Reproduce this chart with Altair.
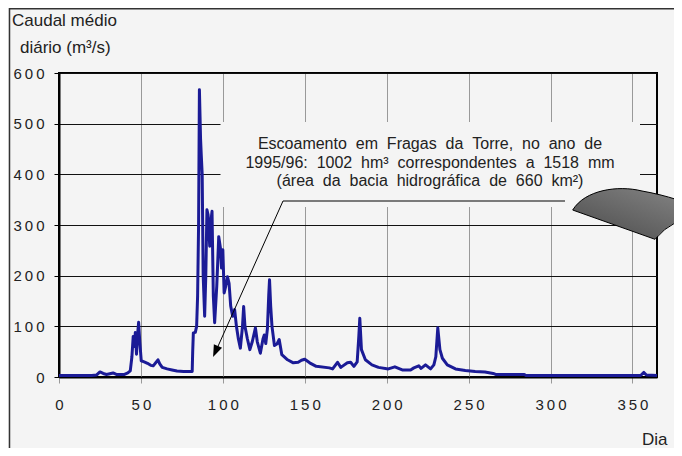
import altair as alt
import pandas as pd

# ---- data ----
days = [0, 10, 20, 23, 25, 27, 29, 33, 35, 40, 42, 43.5, 44.5, 45.3, 46, 46.6, 47.3, 48, 48.6, 49.3,
        50.2, 52, 54, 56, 57.5, 59.5, 60.4, 61.5, 63, 66, 69, 72, 76, 80, 81.3, 81.6, 82, 83.2, 84, 84.6,
        85.2, 85.7, 86.4, 86.8, 87.4, 88.0, 88.9, 89.6, 90.3, 91.0, 92.0, 92.8, 93.4, 94.2, 95.0, 96.3,
        97.5, 98.5, 99.2, 100.0, 100.8, 101.8, 102.8, 103.8, 104.8, 106.0, 107.2, 108.3, 109.5, 110.7,
        112.0, 112.7, 113.5, 115.0, 116.5, 118.0, 119.9, 121.0, 122.9, 124.5, 125.3, 126.2, 127.2, 128.0,
        128.5, 129.2, 130.0, 131.5, 133, 134.4, 136, 139.5, 143, 146, 148, 150, 153, 157, 165, 167, 170,
        172, 176, 178, 180, 182, 183, 183.6, 184.6, 187, 191, 195, 201, 205, 209.5, 214.6, 216.6, 219.6,
        221, 223.7, 226.8, 228.8, 230, 231.2, 232.5, 234, 237, 242, 248, 254, 260, 265, 266.5, 272, 284,
        285, 300, 320, 340, 355, 357, 358.5, 365]
flow = [3, 3, 3, 4, 10, 7, 5, 8, 5, 5, 8, 12, 40, 80, 60, 88, 45, 85, 108, 70,
        32, 30, 27, 23, 22, 30, 34, 26, 19, 16, 14, 12, 11, 11, 11, 50, 87, 88, 100, 160,
        300, 567, 470, 440, 400, 200, 120, 200, 330, 320, 258, 310, 327, 160, 107, 180,
        277, 255, 215, 251, 166, 180, 198, 185, 140, 120, 133, 100, 75, 57,
        100, 139, 100, 75, 54, 70, 97, 70, 47, 75, 83, 66, 95, 160,
        192, 140, 100, 62, 65, 74, 44, 34, 28, 29, 33, 35, 28, 21, 18, 16, 29,
        19, 28, 29, 21, 30, 80, 116, 54, 34, 24, 19, 16, 20, 14, 14, 18, 22,
        17, 24, 16, 24, 40, 97, 54, 37, 24, 16, 13, 11, 10, 7, 5, 5, 5,
        3, 3, 3, 3, 3, 9, 4, 3]
x_ticks = [0, 50, 100, 150, 200, 250, 300, 350]
y_ticks = [0, 100, 200, 300, 400, 500, 600]
note_lines = ["Escoamento em Fragas da Torre, no ano de",
              "1995/96: 1002 hm³ correspondentes a 1518 mm",
              "(área da bacia hidrográfica de 660 km²)"]
y_title = ["Caudal médio", "diário (m³/s)"]
x_title = "Dia"

BG = "#f4f4f4"
FONT = "Liberation Sans"
LINE = "#1b1b96"
SPREAD = "join(split(datum.label, ''), '\u2009')"

df = pd.DataFrame({"day": days, "q": flow})
one = pd.DataFrame({"k": [0]})
wide_notes = [t.replace(" ", " \u00a0") for t in note_lines]

x_enc = alt.X("day:Q", scale=alt.Scale(domain=[0, 365], nice=False),
              axis=alt.Axis(values=x_ticks, title=None, grid=True, gridColor="#999999",
                            domainColor="#000000", domainWidth=2, tickColor="#999999",
                            tickSize=6, labelPadding=14, labelFontSize=15, labelFont=FONT,
                            labelColor="#222222", labelFlush=False, labelExpr=SPREAD))
y_enc = alt.Y("q:Q", scale=alt.Scale(domain=[0, 600], nice=False),
              axis=alt.Axis(values=y_ticks, title=None, grid=True, gridColor="#111111",
                            domainColor="#000000", domainWidth=2, tickColor="#000000",
                            tickSize=5, labelPadding=10, labelFontSize=15, labelFont=FONT,
                            labelColor="#222222", labelExpr=SPREAD))

line = alt.Chart(df).mark_line(color=LINE, strokeWidth=3, strokeJoin="round").encode(x=x_enc, y=y_enc)

box = alt.Chart(one).mark_rect(fill=BG).encode(
    x=alt.value(161.5), x2=alt.value(581), y=alt.value(49), y2=alt.value(134))

notes = alt.Chart(pd.DataFrame({"t": wide_notes, "i": [0, 1, 2]})).mark_text(
    font=FONT, fontSize=16, color="#222222", align="center", baseline="middle"
).encode(text="t:N", x=alt.value(371),
         y=alt.Y("i:O", scale=alt.Scale(range=[62, 117]), axis=None))

underline = alt.Chart(one).mark_rule(color="#000000", strokeWidth=1).encode(
    x=alt.value(224), x2=alt.value(506), y=alt.value(128))
arrow = alt.Chart(one).mark_rule(color="#000000", strokeWidth=1).encode(
    x=alt.value(224), x2=alt.value(156), y=alt.value(128), y2=alt.value(280))
head = alt.Chart(one).mark_point(shape="M 0 -1 L 0.75 1 L -0.75 1 Z", filled=True,
                                 color="#000000", opacity=1, size=144, angle=204).encode(
    x=alt.value(156.5), y=alt.value(278.5))

grad = alt.LinearGradient(gradient="linear",
                          stops=[alt.GradientStop(color="#4a4a4a", offset=0),
                                 alt.GradientStop(color="#8a8a8a", offset=1)],
                          x1=0, y1=1, x2=1, y2=0)
blob = alt.Chart(one).mark_point(
    shape="M -0.955 -0.083 C -0.75 -0.42 -0.2 -0.5 0.2 -0.4 C 0.6 -0.33 1.0 -0.2 1.3 -0.05 Q 0.7 0.05 0.417 0.405 Z",
    filled=True, fill=grad, stroke="#000000", strokeWidth=1, opacity=1, size=14400).encode(
    x=alt.value(571), y=alt.value(142))

title1 = alt.Chart(one).mark_text(font=FONT, fontSize=17, color="#222222", align="left",
                                  baseline="middle", text=y_title[0]).encode(
    x=alt.value(-47), y=alt.value(-52))
title2 = alt.Chart(one).mark_text(font=FONT, fontSize=17, color="#222222", align="left",
                                  baseline="middle", text=y_title[1]).encode(
    x=alt.value(-39), y=alt.value(-25))
xtitle = alt.Chart(one).mark_text(font=FONT, fontSize=17, color="#222222", align="left",
                                  baseline="middle", text=x_title).encode(
    x=alt.value(583), y=alt.value(367))

frame_left = alt.Chart(one).mark_rule(color="#333333", strokeWidth=1.5).encode(
    x=alt.value(-49.5), y=alt.value(-65), y2=alt.value(400))
frame_top = alt.Chart(one).mark_rule(color="#333333", strokeWidth=1.5).encode(
    x=alt.value(-50), x2=alt.value(640), y=alt.value(-64.3))

chart = alt.layer(box, line, underline, arrow, head, notes, blob, title1, title2, xtitle,
                  frame_left, frame_top).properties(
    width=598, height=304,
    autosize=alt.AutoSizeParams(type="none"),
    padding={"left": 51, "top": 65, "right": 17, "bottom": 71},
    background=BG,
).configure_view(stroke="#000000", strokeWidth=2, fill=BG)

chart.save("out.html", embed_options={"renderer": "svg", "actions": False})
